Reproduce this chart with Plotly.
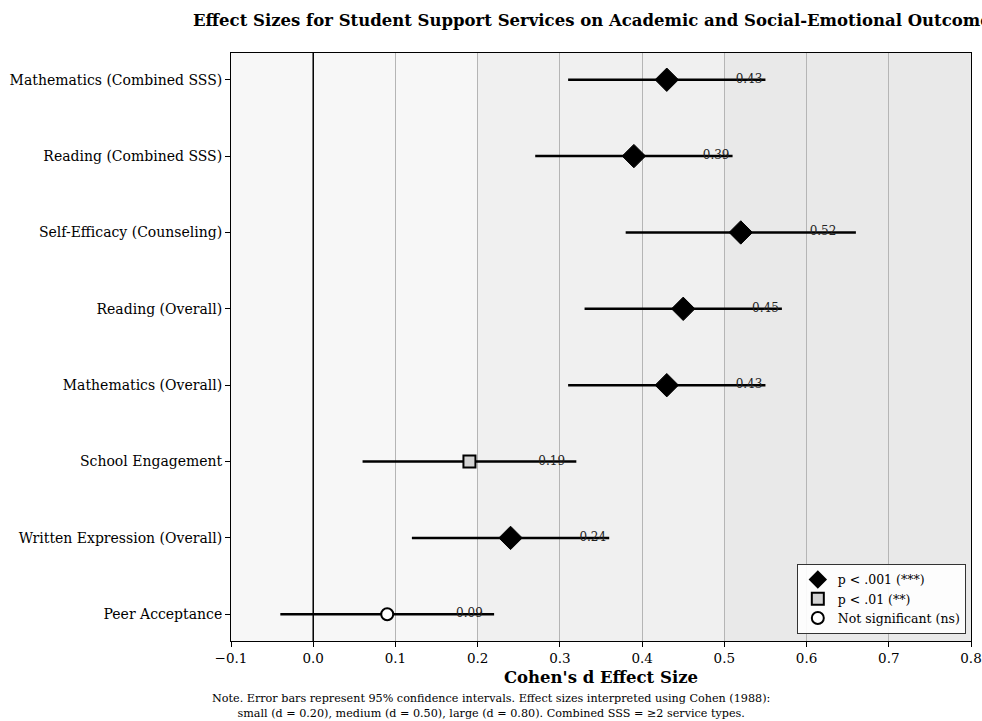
import plotly.graph_objects as go

outcomes = [
    "Mathematics (Combined SSS)",
    "Reading (Combined SSS)",
    "Self-Efficacy (Counseling)",
    "Reading (Overall)",
    "Mathematics (Overall)",
    "School Engagement",
    "Written Expression (Overall)",
    "Peer Acceptance",
]
effects = [0.43, 0.39, 0.52, 0.45, 0.43, 0.19, 0.24, 0.09]
ci_low = [0.31, 0.27, 0.38, 0.33, 0.31, 0.06, 0.12, -0.04]
ci_high = [0.55, 0.51, 0.66, 0.57, 0.55, 0.32, 0.36, 0.22]
significance = ["***", "***", "***", "***", "***", "**", "***", "ns"]

x_ticks = [-0.1, 0.0, 0.1, 0.2, 0.3, 0.4, 0.5, 0.6, 0.7, 0.8]
band_edges = [-0.1, 0.2, 0.5, 0.8]
band_colors = ["#f7f7f7", "#f0f0f0", "#e9e9e9"]

FONT = "DejaVu Serif"
W, H = 982, 721

styles = {
    "***": dict(name="p < .001 (***)", symbol="diamond", size=18, color="black", line=dict(color="black", width=1)),
    "**": dict(name="p < .01 (**)", symbol="square", size=12, color="#d3d3d3", line=dict(color="black", width=2)),
    "ns": dict(name="Not significant (ns)", symbol="circle", size=12, color="white", line=dict(color="black", width=2)),
}

fig = go.Figure()

for key in ["***", "**", "ns"]:
    idx = [i for i, s in enumerate(significance) if s == key]
    st = styles[key]
    fig.add_trace(go.Scatter(
        x=[effects[i] for i in idx],
        y=[outcomes[i] for i in idx],
        mode="markers",
        name=st["name"],
        marker=dict(symbol=st["symbol"], size=st["size"], color=st["color"], line=st["line"]),
        error_x=dict(
            type="data", symmetric=False,
            array=[ci_high[i] - effects[i] for i in idx],
            arrayminus=[effects[i] - ci_low[i] for i in idx],
            color="black", thickness=2.5, width=0,
        ),
    ))

fig.add_trace(go.Scatter(
    x=[e + 0.1 for e in effects],
    y=outcomes,
    mode="text",
    text=[f"{e:.2f}" for e in effects],
    textposition="middle center",
    textfont=dict(family=FONT, size=12, color="#222"),
    showlegend=False,
    hoverinfo="skip",
))

shapes = []
for i in range(len(band_colors)):
    shapes.append(dict(type="rect", xref="x", yref="paper", x0=band_edges[i], x1=band_edges[i + 1],
                       y0=0, y1=1, fillcolor=band_colors[i], line=dict(width=0), layer="below"))
shapes.append(dict(type="line", xref="x", yref="paper", x0=0, x1=0, y0=0, y1=1,
                   line=dict(color="black", width=1.5), layer="above"))

fig.update_layout(
    width=W, height=H,
    margin=dict(l=231, r=11, t=53, b=80, autoexpand=False),
    paper_bgcolor="white",
    plot_bgcolor="#f7f7f7",
    font=dict(family=FONT, size=13, color="black"),
    shapes=shapes,
    title=dict(
        text="<b>Effect Sizes for Student Support Services on Academic and Social-Emotional Outcomes</b>",
        xref="container", x=193 / W, xanchor="left",
        yref="container", y=1 - 20 / H, yanchor="middle",
        font=dict(family=FONT, size=16.5), automargin=False,
    ),
    xaxis=dict(
        range=[-0.1, 0.8], tickvals=x_ticks,
        ticktext=[("\u22120.1" if t < 0 else f"{t:.1f}") for t in x_ticks],
        showgrid=True, gridcolor="#b5b5b5", gridwidth=1,
        zeroline=False, showline=True, linecolor="black", linewidth=1, mirror=True,
        ticks="outside", ticklen=5, tickcolor="black", automargin=False,
        tickfont=dict(family=FONT, size=13.5),
        title=dict(text="<b>Cohen's d Effect Size</b>", font=dict(family=FONT, size=16.5), standoff=6),
    ),
    yaxis=dict(
        type="category", categoryorder="array", categoryarray=outcomes,
        range=[7.35, -0.35], automargin=False,
        showgrid=False, zeroline=False, showline=True, linecolor="black", linewidth=1, mirror=True,
        ticks="outside", ticklen=5, tickcolor="black",
        tickfont=dict(family=FONT, size=14),
    ),
    legend=dict(
        x=0.993, xanchor="right", y=0.012, yanchor="bottom",
        bgcolor="rgba(255,255,255,0.9)", bordercolor="#333", borderwidth=1,
        font=dict(family=FONT, size=12.5), itemsizing="constant",
        tracegroupgap=0,
    ),
    annotations=[dict(
        text="Note. Error bars represent 95% confidence intervals. Effect sizes interpreted using Cohen (1988):<br>small (d = 0.20), medium (d = 0.50), large (d = 0.80). Combined SSS = \u22652 service types.",
        xref="paper", yref="paper", x=(491 - 231) / 740, y=-(690 - 641) / 588, xanchor="center", yanchor="top",
        showarrow=False, align="center", font=dict(family=FONT, size=11.2),
    )],
    showlegend=True,
)

fig.write_html(
    "out.html",
    config={"displayModeBar": False},
    post_script="document.body.style.margin='0';document.body.style.overflow='hidden';",
)
